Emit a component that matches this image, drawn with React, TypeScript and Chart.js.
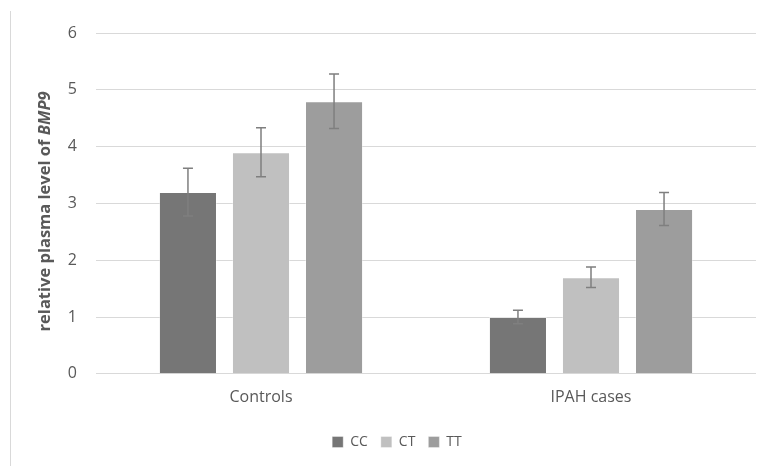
import React, { useEffect, useRef } from "react";
import { Chart, registerables } from "chart.js";

Chart.register(...registerables);

const categories = ["Controls", "IPAH cases"];
const seriesNames = ["CC", "CT", "TT"];
const ccValues = [3.2, 1.0];
const ctValues = [3.9, 1.7];
const ttValues = [4.8, 2.9];
const ccErrors = [0.42, 0.12];
const ctErrors = [0.43, 0.18];
const ttErrors = [0.48, 0.29];
const yTicks = [0, 1, 2, 3, 4, 5, 6];

const colors = ["#767676", "#c0c0c0", "#9d9d9d"];
const FONT = "'Open Sans', 'Liberation Sans', sans-serif";

const errorBarPlugin = {
  id: "errorBars",
  afterDatasetsDraw(chart: any) {
    const ctx = chart.ctx;
    const yScale = chart.scales.y;
    const errs = [ccErrors, ctErrors, ttErrors];
    ctx.save();
    ctx.strokeStyle = "#7f7f7f";
    ctx.lineWidth = 1.5;
    chart.data.datasets.forEach((ds: any, di: number) => {
      const meta = chart.getDatasetMeta(di);
      meta.data.forEach((bar: any, i: number) => {
        const v = ds.data[i];
        const e = errs[di][i];
        const x = bar.x;
        const yt = yScale.getPixelForValue(v + e);
        const yb = yScale.getPixelForValue(v - e);
        ctx.beginPath();
        ctx.moveTo(x, yt);
        ctx.lineTo(x, yb);
        ctx.moveTo(x - 5, yt);
        ctx.lineTo(x + 5, yt);
        ctx.moveTo(x - 5, yb);
        ctx.lineTo(x + 5, yb);
        ctx.stroke();
      });
    });
    ctx.restore();
  },
};

const legendShiftPlugin = {
  id: "legendShift",
  afterLayout(chart: any) {
    const lg = chart.legend;
    if (lg) {
      lg.left += 19;
      lg.right += 19;
    }
  },
};

const titleFramePlugin = {
  id: "titleFrame",
  afterDraw(chart: any) {
    const ctx = chart.ctx;
    const area = chart.chartArea;
    ctx.save();
    ctx.strokeStyle = "#d9d9d9";
    ctx.lineWidth = 1;
    ctx.beginPath();
    ctx.moveTo(10.5, 11);
    ctx.lineTo(10.5, chart.height);
    ctx.stroke();
    const part1 = "relative plasma level of ";
    const part2 = "BMP9";
    const f1 = `bold 16.5px ${FONT}`;
    const f2 = `italic bold 16.5px ${FONT}`;
    ctx.font = f1;
    const w1 = ctx.measureText(part1).width;
    ctx.font = f2;
    const w2 = ctx.measureText(part2).width;
    const total = w1 + w2;
    const cy = (area.top + area.bottom) / 2 + 8;
    ctx.translate(45, cy);
    ctx.rotate(-Math.PI / 2);
    ctx.fillStyle = "#595959";
    ctx.textBaseline = "middle";
    ctx.textAlign = "left";
    ctx.font = f1;
    ctx.fillText(part1, -total / 2, 0);
    ctx.font = f2;
    ctx.fillText(part2, -total / 2 + w1, 0);
    ctx.restore();
  },
};

export default function App() {
  const ref = useRef<HTMLCanvasElement | null>(null);
  useEffect(() => {
    if (!ref.current) return;
    const values = [ccValues, ctValues, ttValues];
    const chart = new Chart(ref.current, {
      type: "bar",
      data: {
        labels: categories,
        datasets: seriesNames.map((n, i) => ({
          label: n,
          data: values[i],
          backgroundColor: colors[i],
          borderColor: "rgba(255,255,255,0.35)",
          borderWidth: 1,
          categoryPercentage: 0.664,
          barPercentage: 0.795,
        })),
      },
      options: {
        animation: false,
        responsive: false,
        maintainAspectRatio: false,
        layout: { padding: { top: 33, right: 10, left: 0, bottom: 7 } },
        plugins: {
          legend: {
            position: "bottom",
            labels: {
              boxWidth: 11,
              boxHeight: 11,
              color: "#595959",
              font: { family: FONT, size: 14 },
              padding: 13,
            },
          },
          tooltip: { enabled: false },
        },
        scales: {
          x: {
            grid: { display: false },
            border: { display: false },
            afterFit(scale: any) {
              scale.height += 9;
            },
            ticks: {
              color: "#595959",
              font: { family: FONT, size: 16 },
              padding: 6,
            },
          },
          y: {
            min: 0,
            max: 6,
            afterFit(scale: any) {
              scale.width = 96;
            },
            afterBuildTicks(scale: any) {
              scale.ticks = yTicks.map((v) => ({ value: v }));
            },
            grid: { color: "#d9d9d9", drawTicks: false, lineWidth: 1 },
            border: { display: false },
            ticks: {
              color: "#595959",
              font: { family: FONT, size: 16 },
              padding: 19,
            },
          },
        },
      },
      plugins: [errorBarPlugin, legendShiftPlugin, titleFramePlugin],
    });
    return () => chart.destroy();
  }, []);
  return (
    <div style={{ position: "fixed", left: 0, top: 0, width: 766, height: 466, background: "#fff" }}>
      <canvas ref={ref} width={766} height={466} />
    </div>
  );
}
